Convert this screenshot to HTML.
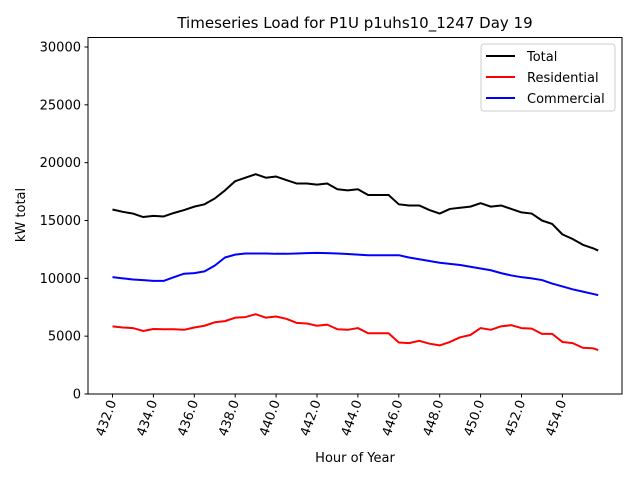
<!DOCTYPE html>
<html><head><meta charset="utf-8"><style>
body{margin:0;background:#fff;font-family:"Liberation Sans","DejaVu Sans",sans-serif}
svg text{font-family:"DejaVu Sans","Liberation Sans",sans-serif}
</style></head><body>
<svg id="chart" width="640" height="480" xmlns="http://www.w3.org/2000/svg">
<rect width="640" height="480" fill="#fff"/>
<text x="355" y="28" text-anchor="middle" font-size="15">Timeseries Load for P1U p1uhs10_1247  Day 19</text>
<g id="grid"></g>
<g id="series"></g>
<rect x="88" y="37.5" width="534" height="356.5" fill="none" stroke="#000" stroke-width="1"/>
<text x="355" y="462" text-anchor="middle" font-size="13">Hour of Year</text>
<text transform="translate(25,215) rotate(-90)" text-anchor="middle" font-size="13">kW total</text>
<g>
<rect x="481" y="44" width="134" height="67" rx="3" fill="#fff" fill-opacity="0.8" stroke="#ccc"/>
<g><line x1="486" y1="56" x2="515" y2="56" stroke="#000" stroke-width="2"/><text x="527" y="61" font-size="13">Total</text></g>
<g><line x1="486" y1="77" x2="515" y2="77" stroke="red" stroke-width="2"/><text x="527" y="82" font-size="13">Residential</text></g>
<g><line x1="486" y1="98" x2="515" y2="98" stroke="blue" stroke-width="2"/><text x="527" y="103" font-size="13">Commercial</text></g>
</g>
</svg>
<script>
const hours=[432,432.5,433,433.5,434,434.5,435,435.5,436,436.5,437,437.5,438,438.5,439,439.5,440,440.5,441,441.5,442,442.5,443,443.5,444,444.5,445,445.5,446,446.5,447,447.5,448,448.5,449,449.5,450,450.5,451,451.5,452,452.5,453,453.5,454,454.5,455,455.5,455.75];
const total=[15950,15750,15600,15300,15400,15350,15650,15900,16200,16400,16900,17600,18400,18700,19000,18700,18800,18500,18200,18200,18100,18200,17700,17600,17700,17200,17200,17200,16400,16300,16300,15900,15600,16000,16100,16200,16500,16200,16300,16000,15700,15600,15000,14700,13800,13400,12900,12600,12400];
const residential=[5850,5750,5700,5450,5620,5600,5600,5550,5750,5900,6200,6300,6600,6650,6900,6600,6700,6500,6150,6100,5900,6000,5600,5550,5700,5250,5250,5250,4450,4400,4600,4350,4200,4500,4900,5100,5700,5550,5850,5950,5700,5650,5200,5200,4500,4400,4000,3950,3800];
const commercial=[10100,10000,9900,9850,9780,9780,10100,10400,10450,10600,11100,11800,12050,12150,12150,12150,12120,12120,12150,12180,12200,12180,12150,12100,12050,12000,12000,12000,12000,11800,11650,11500,11350,11250,11150,11000,10850,10700,10450,10250,10100,10000,9850,9550,9300,9050,8850,8650,8550];
const xTicks=[432,434,436,438,440,442,444,446,448,450,452,454];
const yTicks=[0,5000,10000,15000,20000,25000,30000];
const NS="http://www.w3.org/2000/svg";
const xs=h=>112.5+(h-432)*20.45;
const ys=v=>394-v*347/30000;
const g=document.getElementById('grid'), s=document.getElementById('series');
function mk(tag,attrs,parent){const e=document.createElementNS(NS,tag);for(const k in attrs)e.setAttribute(k,attrs[k]);parent.appendChild(e);return e;}
yTicks.forEach(v=>{
  const y=ys(v);
  const t=mk('line',{x1:84.5,x2:88,y1:y,y2:y,stroke:'#000'},g);
  
  
  const l=mk('text',{x:81,y:y+4.5,'text-anchor':'end','font-size':'13'},g);
  l.textContent=v;
  
  
});
xTicks.forEach(h=>{
  const x=xs(h);
  const t=mk('line',{x1:x,x2:x,y1:394,y2:397.5,stroke:'#000'},g);
  
  
  const l=mk('text',{transform:`translate(${x+4},${402}) rotate(-70)`,'text-anchor':'end','font-size':'13'},g);
  l.textContent=h.toFixed(1);
  
  
});
[[total,'#000','total-line'],[residential,'red','residential-line'],[commercial,'blue','commercial-line']].forEach(([d,c,n])=>{
  const p=mk('polyline',{points:d.map((v,i)=>xs(hours[i])+','+ys(v)).join(' '),fill:'none',stroke:c,'stroke-width':2,'stroke-linejoin':'round'},s);
  
  
});
</script>
</body></html>
